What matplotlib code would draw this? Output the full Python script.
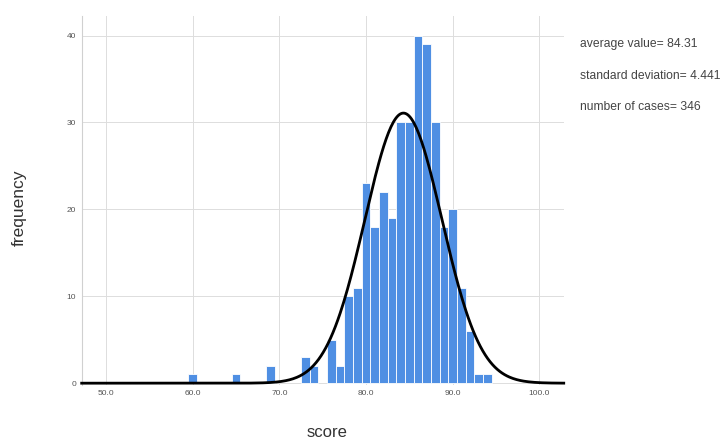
import numpy as np
import matplotlib
matplotlib.use("Agg")
import matplotlib.pyplot as plt

plt.rcParams['font.family'] = ['Liberation Sans', 'DejaVu Sans']

# histogram bins (centre of each 1-point bin) and counts
bin_centers = np.array([60, 65, 69, 73, 74, 76, 77, 78, 79, 80, 81, 82, 83,
                        84, 85, 86, 87, 88, 89, 90, 91, 92, 93, 94])
counts = np.array([1, 1, 2, 3, 2, 5, 2, 10, 11, 23, 18, 22, 19,
                   30, 30, 40, 39, 30, 18, 20, 11, 6, 1, 1])

mean_value = 84.31
std_dev = 4.441
n_cases = 346

x_ticks = [50, 60, 70, 80, 90, 100]
y_ticks = [0, 10, 20, 30, 40]

fig = plt.figure(figsize=(7.26, 4.45), dpi=100)
ax = fig.add_axes([0.1125, 0.135, 0.664, 0.828])

ax.bar(bin_centers, counts, width=1.0, color="#4f8fe3",
       edgecolor="white", linewidth=0.6, zorder=2)

# fitted normal curve
xs = np.linspace(47.2, 102.8, 400)
ys = n_cases / (std_dev * np.sqrt(2 * np.pi)) * np.exp(-0.5 * ((xs - mean_value) / std_dev) ** 2)
ax.plot(xs, ys, color="black", linewidth=2, zorder=3, clip_on=False)

ax.set_xlim(47.2, 102.8)
ax.set_ylim(-0.2, 42.2)
ax.set_xticks(x_ticks)
ax.set_xticklabels([f"{t:.1f}" for t in x_ticks])
ax.set_yticks(y_ticks)
ax.tick_params(labelsize=6, colors="#555555", length=0, pad=4)
ax.grid(True, color="#dddddd", linewidth=0.7, zorder=0)
ax.set_axisbelow(True)
for s in ["top", "right", "bottom"]:
    ax.spines[s].set_visible(False)
ax.spines["left"].set_color("#d0d0d0")

fig.text(0.45, 0.028, "score", fontsize=12, color="#333333", ha="center", va="center")
fig.text(0.026, 0.534, "frequency", fontsize=12.5, color="#333333",
         rotation=90, va="center", ha="center")

fig.text(0.799, 0.9, f"average value= {mean_value}", fontsize=8.7, color="#444444", va="center")
fig.text(0.799, 0.83, f"standard deviation= {std_dev}", fontsize=8.7, color="#444444", va="center")
fig.text(0.799, 0.76, f"number of cases= {n_cases}", fontsize=8.7, color="#444444", va="center")

fig.savefig("out.png", dpi=100)
